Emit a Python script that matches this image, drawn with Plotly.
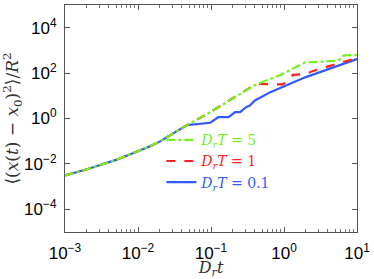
import plotly.graph_objects as go

# shared early-time curve (all three runs coincide)
x_common = [1e-3, 2e-3, 5e-3, 1e-2, 1.5e-2, 2e-2, 3e-2, 4.7e-2]
y_common = [3.1e-3, 5.8e-3, 1.5e-2, 3.7e-2, 6.2e-2, 9.8e-2, 0.22, 0.51]

# D_r T = 5 (green)
x_g = [0.098, 0.40, 0.88, 1.95, 5.5, 6.6, 10.2]
y_g = [1.9, 30.0, 81.0, 295.0, 347.0, 600.0, 645.0]

# D_r T = 1 (red)
x_r = [0.098, 0.417, 0.97, 1.32, 1.95, 2.4, 5.25, 10.2]
y_r = [1.9, 33.9, 31.6, 83.0, 91.0, 117.0, 257.0, 457.0]

# D_r T = 0.1 (blue)
x_b = [0.098, 0.126, 0.174, 0.214, 0.251, 0.302, 0.34, 0.40, 0.65, 1.95, 10.2]
y_b = [0.65, 1.15, 1.15, 1.9, 1.9, 3.16, 3.7, 6.2, 14.5, 65.0, 427.0]

x_tickvals = [1e-3, 1e-2, 1e-1, 1, 10]
x_ticktext = ["10<sup>−3</sup>", "10<sup>−2</sup>", "10<sup>−1</sup>", "10<sup>0</sup>", "10<sup>1</sup>"]
x_minorvals = [m * d for d in [1e-3, 1e-2, 1e-1, 1] for m in range(2, 10)]
y_tickvals = [1e-4, 1e-2, 1, 1e2, 1e4]
y_ticktext = ["10<sup>−4</sup>", "10<sup>−2</sup>", "10<sup>0</sup>", "10<sup>2</sup>", "10<sup>4</sup>"]

colors = ["rgb(50,90,255)", "rgb(255,30,30)", "rgb(115,240,30)"]
dashes = ["solid", "dash", "dashdot"]
xs = [x_b, x_r, x_g]
ys = [y_b, y_r, y_g]
labels = [
    "<i>D<sub>r</sub>T</i> = 0.1",
    "<i>D<sub>r</sub>T</i> = 1",
    "<i>D<sub>r</sub>T</i> = 5",
]

fig = go.Figure()
for xv, yv, c, d, lab in zip(xs, ys, colors, dashes, labels):
    fig.add_trace(go.Scatter(
        x=x_common + xv, y=y_common + yv, mode="lines",
        line=dict(color=c, width=2.2, dash=d),
        name='<span style="color:%s">%s</span>' % (c, lab),
    ))

axis_common = dict(
    type="log", showline=True, linecolor="#555", linewidth=1, mirror="ticks",
    ticks="inside", ticklen=5, tickcolor="#555", showgrid=False, zeroline=False,
    automargin=False,
    tickfont=dict(family="Liberation Sans, Arial", size=17, color="black"),
)

fig.update_xaxes(**axis_common, range=[-3, 1], tickmode="array",
                 tickvals=x_tickvals, ticktext=x_ticktext,
                 ticklabelstandoff=6,
                 minor=dict(tickmode="array", tickvals=x_minorvals, ticks="inside",
                            ticklen=3, tickcolor="#777", showgrid=False),
                 title=dict(text="<i>D<sub>r</sub>t</i>", standoff=5,
                            font=dict(family="DejaVu Serif, Liberation Serif", size=16, color="#333")))
fig.update_yaxes(**axis_common, range=[-5, 5], tickmode="array",
                 tickvals=y_tickvals, ticktext=y_ticktext,
                 ticklabelstandoff=4,
                 title=dict(text="⟨(<i>x</i>(<i>t</i>) − <i>x</i><sub>0</sub>)<sup>2</sup>⟩/<i>R</i><sup>2</sup>",
                            standoff=2,
                            font=dict(family="DejaVu Serif, Liberation Serif", size=17, color="#333")))

fig.update_layout(
    width=374, height=279,
    margin=dict(l=65, r=17, t=5, b=47),
    paper_bgcolor="white", plot_bgcolor="white",
    showlegend=True,
    legend=dict(x=0.33, y=0.475, xanchor="left", yanchor="top", traceorder="reversed",
                bgcolor="rgba(0,0,0,0)",
                font=dict(family="DejaVu Serif, Liberation Serif", size=14)),
)

fig.write_html("out.html", config={"displayModeBar": False},
               post_script="document.body.style.margin='0';")
